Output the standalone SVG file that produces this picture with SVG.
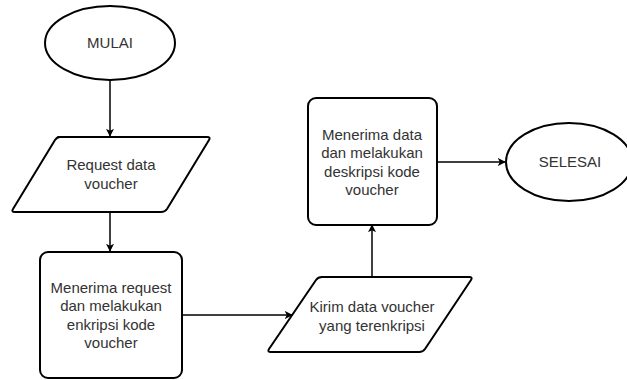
<svg xmlns="http://www.w3.org/2000/svg" width="627" height="380" viewBox="0 0 627 380">
  <style>
    .shape { fill: #ffffff; stroke: #000000; stroke-width: 2; stroke-linejoin: round; }
    .edge { fill: none; stroke: #000000; stroke-width: 1.5; }
    .label { font-family: "Liberation Sans", Arial, sans-serif; font-size: 15px; fill: #333333; text-anchor: middle; }
  </style>
  <defs>
    <marker id="arrow" viewBox="0 0 10 10" refX="9" refY="5" markerWidth="8" markerHeight="8" markerUnits="userSpaceOnUse" orient="auto">
      <path d="M0,0 L10,5 L0,10 L2.5,5 Z" fill="#000000"/>
    </marker>
  </defs>

  <g id="connectors">
    <line class="edge" x1="110" y1="80" x2="110" y2="136" marker-end="url(#arrow)"/>
    <line class="edge" x1="110" y1="212" x2="110" y2="251" marker-end="url(#arrow)"/>
    <line class="edge" x1="182" y1="315" x2="292" y2="315" marker-end="url(#arrow)"/>
    <line class="edge" x1="372" y1="277" x2="372" y2="225" marker-end="url(#arrow)"/>
    <line class="edge" x1="437" y1="162" x2="505" y2="162" marker-end="url(#arrow)"/>
  </g>

  <g id="mulai">
    <ellipse class="shape" cx="110" cy="43" rx="65" ry="37"/>
    <text class="label" x="110" y="48">MULAI</text>
  </g>

  <!-- parallelograms with slightly rounded corners -->
  <g id="request-data">
    <path class="shape" d="M58,137 L207,137 Q211,137 209,140 L167,209 Q165,212 161,212 L15,212 Q11,212 13,209 L55,140 Q57,137 60,137 Z"/>
    <text class="label" x="111" y="170">Request data</text>
    <text class="label" x="111" y="189">voucher</text>
  </g>

  <g id="enkripsi">
    <rect class="shape" x="40" y="252" width="142" height="126" rx="8" ry="8"/>
    <text class="label" x="111" y="293">Menerima request</text>
    <text class="label" x="111" y="311">dan melakukan</text>
    <text class="label" x="111" y="330">enkripsi kode</text>
    <text class="label" x="111" y="348">voucher</text>
  </g>

  <g id="kirim-data">
    <path class="shape" d="M321,277 L469,277 Q473,277 471,280 L425,349 Q423,352 419,352 L271,352 Q267,352 269,349 L316,280 Q318,277 322,277 Z"/>
    <text class="label" x="372" y="312">Kirim data voucher</text>
    <text class="label" x="372" y="331">yang terenkripsi</text>
  </g>

  <g id="deskripsi">
    <rect class="shape" x="308" y="98" width="129" height="127" rx="8" ry="8"/>
    <text class="label" x="372" y="140">Menerima data</text>
    <text class="label" x="372" y="158">dan melakukan</text>
    <text class="label" x="372" y="177">deskripsi kode</text>
    <text class="label" x="372" y="195">voucher</text>
  </g>

  <g id="selesai">
    <ellipse class="shape" cx="569" cy="162" rx="63" ry="39"/>
    <text class="label" x="570" y="167">SELESAI</text>
  </g>
</svg>
